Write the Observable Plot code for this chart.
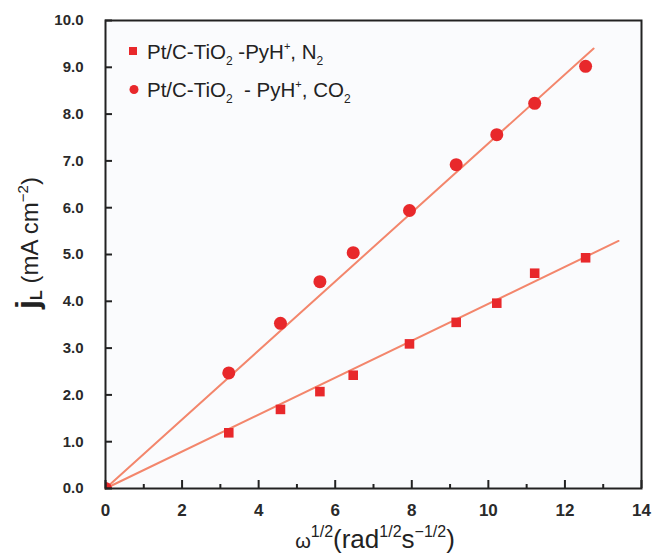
<!DOCTYPE html>
<html>
<head>
<meta charset="utf-8">
<script src="https://cdn.jsdelivr.net/npm/d3@7"></script>
<script src="https://cdn.jsdelivr.net/npm/@observablehq/plot@0.6"></script>
<style>
  body { margin: 0; background: #fff; }
  #chart svg { display: block; }
</style>
</head>
<body>
<div id="chart"></div>
<script>
// ---- data ----
const omega = [0, 3.22, 4.57, 5.60, 6.47, 7.94, 9.16, 10.22, 11.21, 12.54];
const jN2   = [0, 1.19, 1.69, 2.07, 2.42, 3.09, 3.55, 3.96, 4.60, 4.93];
const jCO2  = [0, 2.47, 3.53, 4.42, 5.04, 5.94, 6.92, 7.56, 8.23, 9.02];
// linear fits (through origin), endpoints as drawn
const fitN2X  = [0, 13.4];
const fitN2Y  = [0, 5.29];
const fitCO2X = [0, 12.75];
const fitCO2Y = [0, 9.40];
// ticks
const xMajor = [0, 2, 4, 6, 8, 10, 12, 14];
const xMinor = [1, 3, 5, 7, 9, 11, 13];
const yMajor = [0, 1, 2, 3, 4, 5, 6, 7, 8, 9, 10];
const yTickLabels = ["0.0","1.0","2.0","3.0","4.0","5.0","6.0","7.0","8.0","9.0","10.0"];

const markerColor = "#e8282b";
const lineColor = "#f3866c";
const inkColor = "#222";
const FONT = "'Liberation Sans', Arial, Helvetica, sans-serif";

const W = 652, H = 555;
const mL = 105, mR = 11, mT = 20, mB = 67;
const frameW = W - mL - mR, frameH = H - mT - mB;

const ptsN2 = omega.map((x, i) => ({x, y: jN2[i]}));
const ptsCO2 = omega.map((x, i) => ({x, y: jCO2[i]}));
const fits = [
  ...fitN2X.map((x, i) => ({series: "N2", x, y: fitN2Y[i]})),
  ...fitCO2X.map((x, i) => ({series: "CO2", x, y: fitCO2Y[i]}))
];

const chart = Plot.plot({
  width: W,
  height: H,
  marginLeft: mL,
  marginRight: mR,
  marginTop: mT,
  marginBottom: mB,
  x: {domain: [0, 14]},
  y: {domain: [0, 10]},
  style: {fontFamily: FONT, background: "#fff", color: inkColor},
  marks: [
    Plot.frame({fill: "#fafbfd", stroke: null}),
    Plot.line(fits, {x: "x", y: "y", z: "series", stroke: lineColor, strokeWidth: 2}),
    Plot.dot(ptsCO2, {x: "x", y: "y", r: 6.5, fill: markerColor, symbol: "circle", clip: "frame"}),
    Plot.dot(ptsN2, {x: "x", y: "y", r: 5.4, fill: markerColor, symbol: "square", clip: "frame"}),
    // inward ticks (short ticks at the bottom / left edge of the frame)
    Plot.tickX(xMajor, {x: d => d, insetTop: frameH - 8, stroke: inkColor, strokeWidth: 2}),
    Plot.tickX(xMinor, {x: d => d, insetTop: frameH - 4, stroke: inkColor, strokeWidth: 2}),
    Plot.tickY(yMajor, {y: d => d, insetRight: frameW - 7, stroke: inkColor, strokeWidth: 2}),
    Plot.axisX({ticks: xMajor, tickSize: 0, tickPadding: 15, fontSize: 17, fontWeight: "bold", fill: "#2a2a2a", label: null, tickFormat: d => String(d)}),
    Plot.axisY({ticks: yMajor, tickSize: 0, tickPadding: 22, fontSize: 15, fontWeight: "bold", fill: "#2a2a2a", label: null, tickFormat: d => yTickLabels[d]}),
    Plot.frame({stroke: inkColor, strokeWidth: 2})
  ]
});

document.getElementById("chart").appendChild(chart);

// ---- axis titles and legend (rich text with sub/superscripts) ----
const svg = d3.select(chart);
const sx = chart.scale("x");
const g = svg.append("g").attr("font-family", FONT).attr("fill", inkColor).attr("text-anchor", "start");

function rich(textSel, parts) {
  let shift = 0;
  for (const p of parts) {
    const t = textSel.append("tspan").text(p.t);
    const target = p.dy || 0;
    if (target !== shift) t.attr("dy", target - shift);
    shift = target;
    if (p.size) t.attr("font-size", p.size);
    if (p.bold) t.attr("font-weight", "bold");
  }
}

// y-axis title
const ylab = g.append("text")
  .attr("transform", `translate(38,243) rotate(-90)`)
  .attr("text-anchor", "middle")
  .attr("font-size", 24)
  .style("white-space", "pre");
rich(ylab, [
  {t: "j", size: 32, bold: true},
  {t: "L", size: 16, bold: true, dy: 4},
  {t: " (mA cm", size: 24},
  {t: "−2", size: 15, dy: -10},
  {t: ")", size: 24}
]);

// x-axis title
const xMid = (sx.range[0] + sx.range[1]) / 2;
const xlab = g.append("text")
  .attr("x", xMid + 2)
  .attr("y", 548)
  .attr("text-anchor", "middle")
  .attr("font-size", 26);
rich(xlab, [
  {t: "ω", size: 20},
  {t: "1/2", size: 16, dy: -11},
  {t: "(rad", size: 26},
  {t: "1/2", size: 16, dy: -11},
  {t: "s", size: 26},
  {t: "−1/2", size: 16, dy: -11},
  {t: ")", size: 26}
]);

// legend
const leg = g.append("g");
leg.append("rect").attr("x", 129).attr("y", 47).attr("width", 8).attr("height", 8).attr("fill", markerColor);
leg.append("circle").attr("cx", 134).attr("cy", 89.5).attr("r", 4.5).attr("fill", markerColor);
const l1 = leg.append("text").attr("x", 147).attr("y", 59).attr("font-size", 20.5).style("white-space", "pre");
rich(l1, [
  {t: "Pt/C-TiO"},
  {t: "2", size: 12, dy: 6},
  {t: " -PyH"},
  {t: "+", size: 11, dy: -9},
  {t: ", N"},
  {t: "2", size: 12, dy: 6}
]);
const l2 = leg.append("text").attr("x", 147).attr("y", 97).attr("font-size", 20.5).style("white-space", "pre");
rich(l2, [
  {t: "Pt/C-TiO"},
  {t: "2", size: 12, dy: 6},
  {t: "  - PyH"},
  {t: "+", size: 11, dy: -9},
  {t: ", CO"},
  {t: "2", size: 12, dy: 6}
]);
</script>
</body>
</html>
